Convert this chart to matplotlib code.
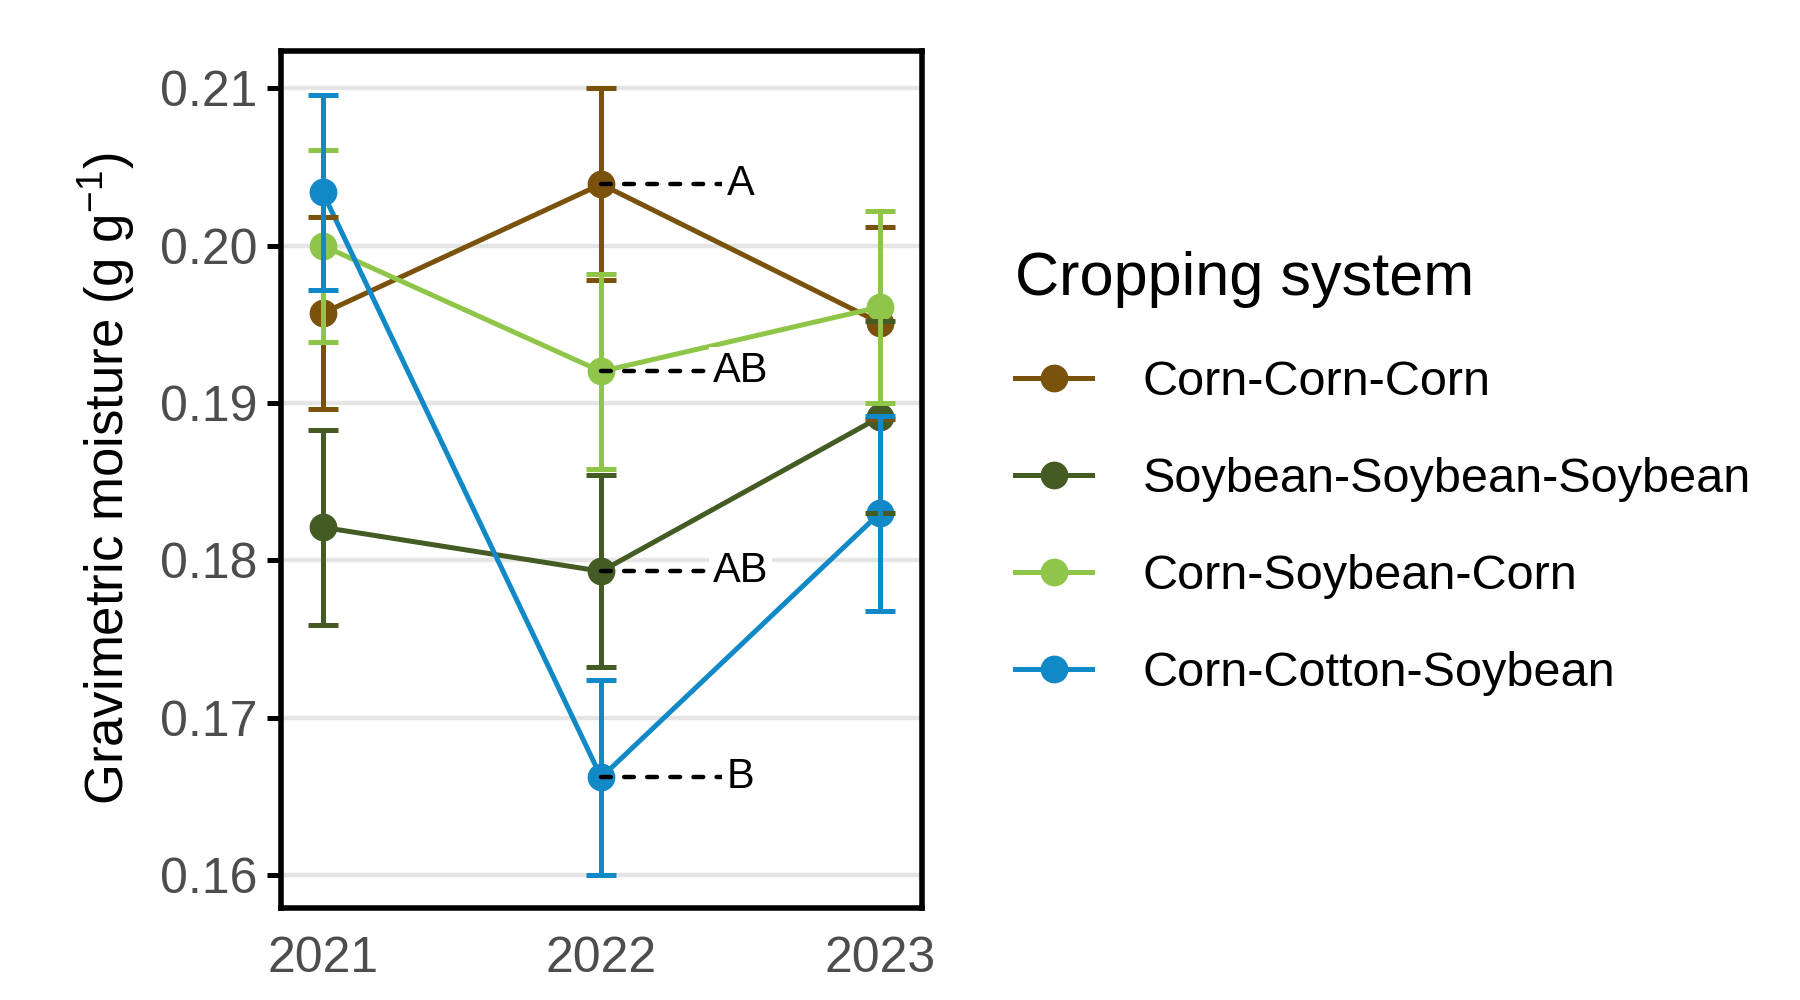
import matplotlib
matplotlib.use("Agg")
import matplotlib.pyplot as plt
from matplotlib.lines import Line2D

plt.rcParams['font.family'] = ['Liberation Sans', 'DejaVu Sans']
plt.rcParams['mathtext.default'] = 'regular'

years = [2021, 2022, 2023]
systems = ["Corn-Corn-Corn", "Soybean-Soybean-Soybean", "Corn-Soybean-Corn", "Corn-Cotton-Soybean"]
colors = ["#7A520B", "#445B23", "#8FC649", "#1289C7"]

ccc_mean = [0.1957, 0.2039, 0.1951]
sss_mean = [0.1821, 0.1793, 0.1891]
csc_mean = [0.2000, 0.1920, 0.1961]
cts_mean = [0.2034, 0.1662, 0.1830]

ccc_se = [0.0061, 0.0061, 0.0061]
sss_se = [0.0062, 0.0061, 0.0061]
csc_se = [0.0061, 0.0062, 0.0061]
cts_se = [0.0062, 0.0062, 0.0062]

means = [ccc_mean, sss_mean, csc_mean, cts_mean]
errs = [ccc_se, sss_se, csc_se, cts_se]

# letters for 2022 means
letters = ["A", "AB", "AB", "B"]


def main():
    fig = plt.figure(figsize=(9, 5), dpi=200)
    ax = fig.add_axes([0.156, 0.092, 0.356, 0.8575])

    lw = 1.8
    # lines, then points, then error bars (ggplot layer order)
    for m, c in zip(means, colors):
        ax.plot(years, m, color=c, lw=lw, zorder=3, solid_capstyle='butt')
    for m, c in zip(means, colors):
        ax.plot(years, m, 'o', color=c, ms=10, mew=0, zorder=4)
    for m, e, c in zip(means, errs, colors):
        ax.errorbar(years, m, yerr=e, fmt='none', ecolor=c, elinewidth=lw,
                    capsize=5.4, capthick=lw, zorder=5)

    # significance letters at 2022
    for m, lab in zip(means, letters):
        y = m[1]
        ax.plot([2022, 2022.45], [y, y], color='black', lw=1.6,
                ls=(0, (2.2, 3.0)), dash_capstyle='round', zorder=6)
        ax.text(2022.5, y, lab, ha='center', va='center', fontsize=15,
                color='black', zorder=7,
                bbox=dict(facecolor='white', edgecolor='none', pad=1.5))

    ax.set_xlim(2020.85, 2023.15)
    ax.set_ylim(0.1579, 0.2124)
    ax.set_xticks(years)
    ax.set_xticklabels([str(y) for y in years])
    ax.set_yticks([0.16, 0.17, 0.18, 0.19, 0.20, 0.21])
    ax.set_yticklabels(["0.16", "0.17", "0.18", "0.19", "0.20", "0.21"])
    ax.tick_params(axis='both', labelsize=18, labelcolor='#4D4D4D',
                   color='black', width=1.8, length=5)
    ax.tick_params(axis='x', length=0, pad=10)
    ax.grid(axis='y', color='#E5E5E5', lw=1.6)
    ax.set_axisbelow(True)
    for sp in ax.spines.values():
        sp.set_linewidth(2.0)
        sp.set_color('black')
    ax.set_ylabel("Gravimetric moisture (g g$^{-1}$)", fontsize=19, labelpad=8)

    handles = [Line2D([0], [0], color=c, lw=lw, marker='o', ms=10, mew=0)
               for c in colors]
    leg = fig.legend(handles, systems, loc='upper left',
                     bbox_to_anchor=(0.564, 0.749), frameon=False,
                     title="Cropping system", title_fontsize=22,
                     fontsize=17.5, handlelength=1.58, handletextpad=1.04,
                     labelspacing=1.07, borderaxespad=0, borderpad=0)
    leg._legend_box.align = "left"

    fig.savefig("out.png", dpi=200)
    plt.close(fig)


if __name__ == "__main__":
    main()
